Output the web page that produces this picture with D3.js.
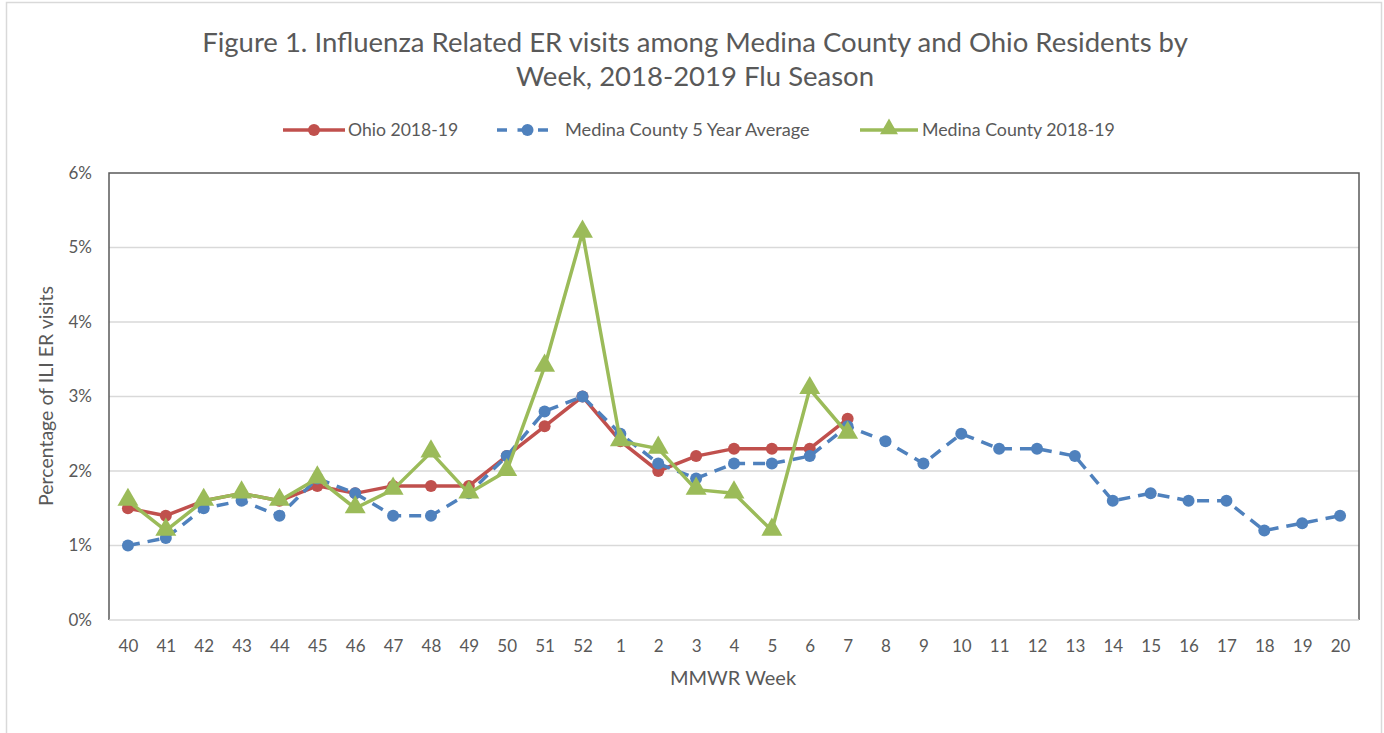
<!DOCTYPE html>
<html>
<head>
<meta charset="utf-8">
<script src="https://cdn.jsdelivr.net/npm/d3@7"></script>
<style>
  html, body { margin: 0; padding: 0; background: #fff; }
  svg { display: block; }
  text { font-family: Lato, "Open Sans", sans-serif; fill: #595959; }
</style>
</head>
<body>
<svg id="chart" width="1384" height="733"></svg>
<script>
const weeks = ["40","41","42","43","44","45","46","47","48","49","50","51","52","1","2","3","4","5","6","7","8","9","10","11","12","13","14","15","16","17","18","19","20"];
const ohio = [1.5,1.4,1.6,1.7,1.6,1.8,1.7,1.8,1.8,1.8,2.2,2.6,3.0,2.4,2.0,2.2,2.3,2.3,2.3,2.7];
const medinaAvg = [1.0,1.1,1.5,1.6,1.4,1.9,1.7,1.4,1.4,1.7,2.2,2.8,3.0,2.5,2.1,1.9,2.1,2.1,2.2,2.6,2.4,2.1,2.5,2.3,2.3,2.2,1.6,1.7,1.6,1.6,1.2,1.3,1.4];
const medina = [1.6,1.2,1.6,1.7,1.6,1.9,1.5,1.75,2.25,1.7,2.0,3.4,5.2,2.4,2.3,1.75,1.7,1.2,3.1,2.5];
const yTicks = [0,1,2,3,4,5,6];
const titleLines = ["Figure 1. Influenza Related ER visits among Medina County and Ohio Residents by","Week, 2018-2019 Flu Season"];
const seriesNames = ["Ohio 2018-19","Medina County 5 Year Average","Medina County 2018-19"];

const svg = d3.select("#chart");
const m = {left:109, right:1359, top:173, bottom:620};
const FONT = "Lato, 'Open Sans', sans-serif";

// outer frame
svg.append("rect").attr("x",6.5).attr("y",2.5).attr("width",1375).attr("height",740)
  .attr("fill","none").attr("stroke","#d9d9d9").attr("stroke-width",1.5);

const x = d3.scalePoint().domain(weeks).range([m.left, m.right]).padding(0.5);
const y = d3.scaleLinear().domain([0,6]).range([m.bottom, m.top]);

// gridlines
svg.append("g").selectAll("line").data(yTicks.filter(d=>d>0&&d<6)).join("line")
  .attr("x1",m.left).attr("x2",m.right).attr("y1",d=>y(d)).attr("y2",d=>y(d))
  .attr("stroke","#d9d9d9").attr("stroke-width",1.3);

// plot border
svg.append("path").attr("d",`M${m.left},${m.bottom}V${m.top}H${m.right}V${m.bottom}`)
  .attr("fill","none").attr("stroke","#595959").attr("stroke-width",1.5);
svg.append("line").attr("x1",m.left).attr("x2",m.right).attr("y1",m.bottom).attr("y2",m.bottom)
  .attr("stroke","#d9d9d9").attr("stroke-width",1.5);

// y axis
const yAxis = d3.axisLeft(y).tickValues(yTicks).tickFormat(d=>d+"%").tickSize(0).tickPadding(17);
const gy = svg.append("g").attr("transform",`translate(${m.left},0)`).call(yAxis);
gy.select(".domain").remove();
gy.selectAll("text").attr("font-size",17).style("fill","#595959").style("font-family",FONT);

// x axis
const xAxis = d3.axisBottom(x).tickSize(0).tickPadding(20);
const gx = svg.append("g").attr("transform",`translate(0,${m.bottom})`).call(xAxis);
gx.select(".domain").remove();
gx.selectAll("text").attr("font-size",17).style("fill","#595959").style("font-family",FONT);

// axis titles
svg.append("text").attr("x",733).attr("y",685).attr("text-anchor","middle").attr("font-size",20).text("MMWR Week");
svg.append("text").attr("transform","translate(53,396) rotate(-90)").attr("text-anchor","middle").attr("font-size",19.5).text("Percentage of ILI ER visits");

// title
svg.append("text").attr("x",695).attr("y",52).attr("text-anchor","middle").attr("font-size",27.5)
  .selectAll("tspan").data(titleLines).join("tspan").attr("x",695).attr("dy",(d,i)=>i?34:0).text(d=>d);

const colors = ["#c0504d","#4f81bd","#9bbb59"];
const line = d3.line().x((d,i)=>x(weeks[i])).y(d=>y(d));

function drawSeries(data, color, dash, marker) {
  const g = svg.append("g");
  g.append("path").datum(data).attr("d",line).attr("fill","none").attr("stroke",color)
    .attr("stroke-width",3.5).attr("stroke-dasharray",dash||null).attr("stroke-linejoin","round");
  if (marker === "circle") {
    g.selectAll("circle").data(data).join("circle")
      .attr("cx",(d,i)=>x(weeks[i])).attr("cy",d=>y(d)).attr("r",6).attr("fill",color);
  } else {
    const tri = d3.symbol().type(d3.symbolTriangle).size(190);
    g.selectAll("path.m").data(data).join("path").attr("class","m")
      .attr("transform",(d,i)=>`translate(${x(weeks[i])},${y(d)-1})`).attr("d",tri).attr("fill",color);
  }
}
drawSeries(ohio, colors[0], null, "circle");
drawSeries(medinaAvg, colors[1], "12,8", "circle");
drawSeries(medina, colors[2], null, "triangle");

// legend
const leg = [
  {x1:283, x2:345, tx:348, dash:null, marker:"circle", fs:17.6},
  {x1:497, x2:558, tx:565, dash:"11,8", marker:"circle", fs:18.2},
  {x1:860, x2:918, tx:922, dash:null, marker:"triangle", fs:17.8}
];
const ly = 130;
leg.forEach((l,i)=>{
  svg.append("line").attr("x1",l.x1).attr("x2",l.x2).attr("y1",ly).attr("y2",ly)
    .attr("stroke",colors[i]).attr("stroke-width",3.5).attr("stroke-dasharray",l.dash ? "10,10.5" : null);
  const cx = (l.x1+l.x2)/2;
  if (l.marker==="circle") svg.append("circle").attr("cx",cx).attr("cy",ly).attr("r",6).attr("fill",colors[i]);
  else svg.append("path").attr("transform",`translate(${cx},${ly-1})`).attr("d",d3.symbol().type(d3.symbolTriangle).size(140)).attr("fill",colors[i]);
  svg.append("text").attr("x",l.tx).attr("y",ly+6).attr("font-size",l.fs).text(seriesNames[i]);
});
</script>
</body>
</html>
